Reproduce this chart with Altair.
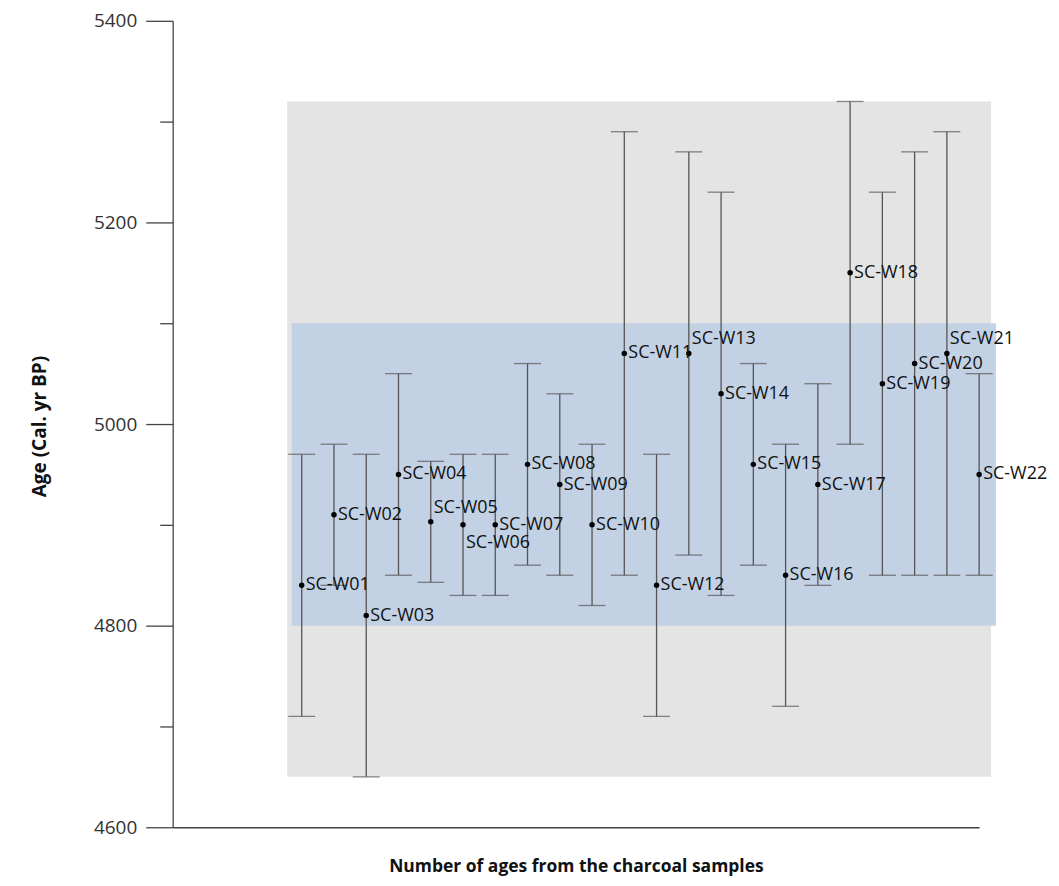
import altair as alt
import pandas as pd

names = ["SC-W01", "SC-W02", "SC-W03", "SC-W04", "SC-W05", "SC-W06", "SC-W07", "SC-W08",
         "SC-W09", "SC-W10", "SC-W11", "SC-W12", "SC-W13", "SC-W14", "SC-W15", "SC-W16",
         "SC-W17", "SC-W18", "SC-W19", "SC-W20", "SC-W21", "SC-W22"]
sample_no = list(range(1, 23))
ages = [4840, 4910, 4810, 4950, 4903, 4900, 4900, 4960, 4940, 4900, 5070,
        4840, 5070, 5030, 4960, 4850, 4940, 5150, 5040, 5060, 5070, 4950]
lows = [4710, 4840, 4650, 4850, 4843, 4830, 4830, 4860, 4850, 4820, 4850,
        4710, 4870, 4830, 4860, 4720, 4840, 4980, 4850, 4850, 4850, 4850]
highs = [4970, 4980, 4970, 5050, 4963, 4970, 4970, 5060, 5030, 4980, 5290,
         4970, 5270, 5230, 5060, 4980, 5040, 5320, 5230, 5270, 5290, 5050]

# background bands (sample-number extent and age extent)
band_kind = ["grey", "blue"]
band_x_start = [0.55, 0.69]
band_x_end = [22.37, 22.52]
band_age_low = [4650, 4800]
band_age_high = [5320, 5100]

y_tick_values = [4600, 4700, 4800, 4900, 5000, 5100, 5200, 5300, 5400]

above_labels = ["SC-W05", "SC-W13", "SC-W21"]
below_labels = ["SC-W06"]

df = pd.DataFrame({"name": names, "n": sample_no, "age": ages, "lo": lows, "hi": highs})
bands = pd.DataFrame({"kind": band_kind, "x": band_x_start, "x2": band_x_end,
                      "y": band_age_low, "y2": band_age_high})

FONT = "Open Sans"
xscale = alt.Scale(domain=[-3, 22], nice=False, zero=False)
yscale = alt.Scale(domain=[4600, 5400], nice=False, zero=False)

x_axis = alt.Axis(title="Number of  ages from the charcoal samples", labels=False, ticks=False,
                  grid=False, domainColor="#444", domainWidth=1.3,
                  titleFont=FONT, titleFontSize=17.5, titleFontWeight="bold",
                  titleColor="#111", titlePadding=30)
y_axis = alt.Axis(title="Age  (Cal. yr BP)", values=y_tick_values, format="d",
                  labelExpr="datum.value % 200 === 0 ? datum.label : ''",
                  tickSize={"condition": {"test": "datum.value % 200 === 0", "value": 27}, "value": 13},
                  tickColor="#444", tickWidth=1.3, domainColor="#444", domainWidth=1.3,
                  grid=False, labelFont=FONT, labelFontSize=19, labelColor="#333",
                  labelPadding=9,
                  titleFont=FONT, titleFontSize=19, titleFontWeight="bold", titleColor="#111",
                  titleX=-133, titleY=406, titleBaseline="middle", titleAngle=-90)

X = alt.X("n:Q", scale=xscale, axis=x_axis)
Y = alt.Y("age:Q", scale=yscale, axis=y_axis)

band_layer = alt.Chart(bands).mark_rect().encode(
    x=alt.X("x:Q", scale=xscale, axis=x_axis),
    x2="x2:Q",
    y=alt.Y("y:Q", scale=yscale, axis=y_axis),
    y2="y2:Q",
    color=alt.Color("kind:N", scale=alt.Scale(domain=["grey", "blue"], range=["#e4e4e4", "#c3d1e4"]),
                    legend=None),
)

base = alt.Chart(df)
rules = base.mark_rule(color="#555", strokeWidth=1.3).encode(
    x=X, y=alt.Y("lo:Q", scale=yscale, axis=y_axis), y2="hi:Q")
cap_lo = base.mark_tick(orient="horizontal", size=27, thickness=1.3, color="#555").encode(
    x=X, y=alt.Y("lo:Q", scale=yscale, axis=y_axis))
cap_hi = base.mark_tick(orient="horizontal", size=27, thickness=1.3, color="#555").encode(
    x=X, y=alt.Y("hi:Q", scale=yscale, axis=y_axis))
points = base.mark_circle(size=30, color="#000", opacity=1).encode(x=X, y=Y)

text_props = dict(align="left", baseline="middle", font=FONT, fontSize=18, color="#111")
labels_mid = base.transform_filter(
    ~alt.FieldOneOfPredicate(field="name", oneOf=above_labels + below_labels)
).mark_text(dx=4, **text_props).encode(x=X, y=Y, text="name:N")
labels_above = base.transform_filter(
    alt.FieldOneOfPredicate(field="name", oneOf=above_labels)
).mark_text(dx=3, dy=-14, **text_props).encode(x=X, y=Y, text="name:N")
labels_below = base.transform_filter(
    alt.FieldOneOfPredicate(field="name", oneOf=below_labels)
).mark_text(dx=3, dy=18, **text_props).encode(x=X, y=Y, text="name:N")

chart = alt.layer(band_layer, rules, cap_lo, cap_hi, points, labels_mid, labels_above, labels_below).properties(
    width=808, height=808,
    padding={"left": 165, "top": 12, "right": 72, "bottom": 52},
    autosize=alt.AutoSizeParams(type="none"),
    background="white",
).configure_view(stroke=None)

chart.save("out.html", embed_options={"renderer": "svg", "actions": False})
